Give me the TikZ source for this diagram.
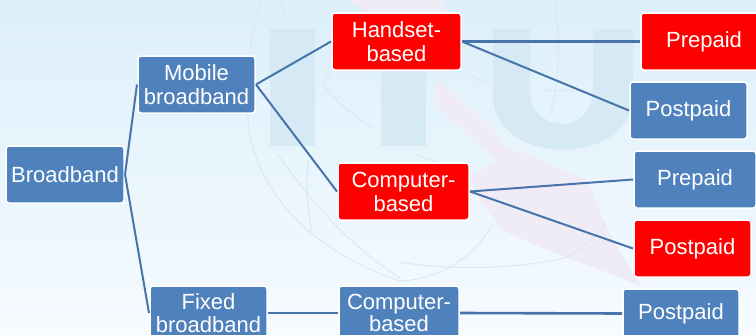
\documentclass[tikz,border=0pt]{standalone}
\usepackage{fontspec}
\setmainfont{Liberation Sans}
\definecolor{boxblue}{HTML}{4F81BD}
\definecolor{linkblue}{HTML}{4674AB}
\definecolor{markblue}{HTML}{D6EAF6}
\definecolor{globeline}{HTML}{D8E9F3}
\definecolor{swoosh}{HTML}{EFECF6}
\definecolor{bgtop}{HTML}{DCEFFA}
\definecolor{bgbottom}{HTML}{F6FBFF}
\begin{document}
\begin{tikzpicture}[x=1pt,y=-1pt,
  box/.style={draw=white,line width=1.5pt,rounded corners=3pt,anchor=north west,inner sep=0pt,outer sep=1pt,align=center,text=white,minimum height=57pt,minimum width=117pt,font=\fontsize{22}{24}\selectfont},
  bluebox/.style={box,fill=boxblue},
  redbox/.style={box,fill=red},
  cutbox/.style={minimum height=54pt,font=\fontsize{22}{22.5}\selectfont},
  link/.style={draw=linkblue,line width=2pt},
  flatlink/.style={draw=linkblue,line width=2.6pt},
  logopart/.style={fill=markblue},
  globe/.style={draw=globeline,line width=1pt}]
\useasboundingbox (0,0) rectangle (756,335);
\clip (0,0) rectangle (756,335);
\shade[top color=bgtop,bottom color=bgbottom] (0,0) rectangle (756,335);
\fill[logopart] (270,29) rectangle (315,146);
\fill[logopart] (381,60) rectangle (426,146);
\fill[logopart] (493,29) -- (530,29) -- (530,90) .. controls (530,135) and (593,135) .. (593,90) -- (593,29) -- (633,29) -- (633,95) .. controls (633,168) and (493,168) .. (493,95) -- cycle;
\fill[swoosh] (435,80) .. controls (460,98) and (480,115) .. (493,130) .. controls (500,142) and (505,148) .. (513,150) .. controls (540,160) and (565,170) .. (587,180) .. controls (600,215) and (620,255) .. (642,287) .. controls (600,268) and (540,250) .. (503,230) .. controls (490,215) and (475,195) .. (470,177) -- (497,160) .. controls (475,140) and (450,120) .. (435,105) -- cycle;
\fill[swoosh] (347,0) -- (440,0) -- (450,14) -- (370,14) -- cycle;
\draw[globe] (262,0) .. controls (248,40) and (243,90) .. (250,135) .. controls (262,195) and (310,250) .. (400,281) .. controls (430,280) and (470,265) .. (493,223);
\draw[globe] (278,155) .. controls (300,185) and (340,240) .. (400,278);
\draw[globe] (308,160) .. controls (306,190) and (308,215) .. (312,232);
\draw[globe] (330,72) -- (323,85) .. controls (335,100) and (355,118) .. (373,128);
\draw[globe] (280,0) -- (285,18);
\draw[globe] (417,155) -- (450,167);
\draw[globe] (470,75) -- (482,82);
\draw[globe] (543,90) -- (573,90);
\draw[globe] (555,0) .. controls (560,40) and (560,80) .. (550,115);
\draw[globe] (400,262) .. controls (440,270) and (520,270) .. (567,257) .. controls (585,248) and (595,235) .. (605,225);

\node[bluebox,minimum width=118pt] (bb) at (5,145) {Broadband};
\node[bluebox] (mob) at (137,55) {Mobile\\broadband};
\node[bluebox,cutbox] (fix) at (149,285) {Fixed\\broadband};
\node[redbox,minimum width=129pt] (hs) at (331,12) {Handset-\\based};
\node[redbox,minimum width=131pt] (cr) at (337,162) {Computer-\\based};
\node[bluebox,cutbox,minimum width=120pt] (cb) at (338,285) {Computer-\\based};
\node[redbox,minimum width=126pt] (p1) at (640,12) {Prepaid};
\node[bluebox] (p2) at (629,81) {Postpaid};
\node[bluebox,minimum width=122pt] (p3) at (633,150) {Prepaid};
\node[redbox] (p4) at (633,219) {Postpaid};
\node[bluebox,minimum width=116pt,minimum height=49pt] (p5) at (622,288) {Postpaid};

\draw[link] (bb.east) -- (mob.west);
\draw[link] (bb.east) -- (fix.west);
\draw[link] (mob.east) -- (hs.west);
\draw[link] (mob.east) -- (cr.west);
\draw[flatlink] (hs.east) -- (p1.west);
\draw[link] (hs.east) -- (p2.west);
\draw[link] (cr.east) -- (p3.west);
\draw[link] (cr.east) -- (p4.west);
\draw[flatlink] (fix.east) -- (cb.west);
\draw[flatlink] (cb.east) -- (p5.west);
\end{tikzpicture}
\end{document}
